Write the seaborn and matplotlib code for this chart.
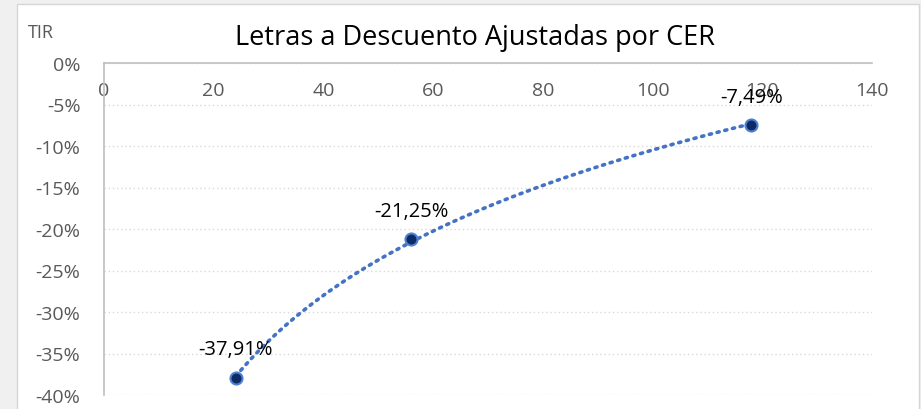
import matplotlib
matplotlib.use("Agg")
import matplotlib.pyplot as plt
import numpy as np
import pandas as pd
import seaborn as sns
from matplotlib.patches import Rectangle
from matplotlib.ticker import FuncFormatter, MultipleLocator

# datos
dias = [24, 56, 118]
tir = [-37.91, -21.25, -7.49]
etiquetas = ["-37,91%", "-21,25%", "-7,49%"]

df = pd.DataFrame({"dias": dias, "tir": tir})

sns.set_theme(style="white")
plt.rcParams["font.family"] = ["Open Sans", "DejaVu Sans"]

fig = plt.figure(figsize=(9.21, 4.10), dpi=100)
fig.patch.set_facecolor("#f0f0f0")
card = Rectangle((17 / 921, -0.05), (919 - 17) / 921, 1 - 5 / 410 + 0.05,
                 transform=fig.transFigure, facecolor="white",
                 edgecolor="#d6d6d6", linewidth=1.0, zorder=-10)
fig.patches.append(card)

ax = fig.add_axes([104 / 921, 1 - 396 / 410, (872 - 104) / 921, (396 - 64) / 410])
ax.patch.set_alpha(0)

# linea de tendencia logaritmica
sns.regplot(data=df, x="dias", y="tir", logx=True, ci=None, scatter=False,
            line_kws=dict(color="#4472C4", linewidth=2.6, linestyle=(0, (0.6, 1.6)),
                          dash_capstyle="round", zorder=2),
            ax=ax)
sns.scatterplot(data=df, x="dias", y="tir", s=75, color="#0b2a66",
                edgecolor="#4f7fcf", linewidth=1.5, zorder=3, ax=ax)

for x, y, t in zip(dias, tir, etiquetas):
    ax.annotate(t, (x, y), xytext=(0, 20.5), textcoords="offset points",
                ha="center", va="center", fontsize=14.5, color="black")

ax.set_xlim(0, 140)
ax.set_ylim(-40, 0)
ax.xaxis.set_major_locator(MultipleLocator(20))
ax.yaxis.set_major_locator(MultipleLocator(5))
ax.yaxis.set_major_formatter(FuncFormatter(lambda v, p: f"{v:.0f}%"))
ax.set_xlabel("")
ax.set_ylabel("")

ax.tick_params(axis="x", bottom=False, labelbottom=False, top=True, labeltop=True,
               length=0, pad=-26, labelsize=14, labelcolor="#595959")
ax.tick_params(axis="y", length=0, pad=17, labelsize=14, labelcolor="#595959")

ax.yaxis.grid(True, color="#d9d9d9", linestyle=(0, (1, 2)), linewidth=1)
ax.xaxis.grid(False)
for s in ["right", "bottom"]:
    ax.spines[s].set_visible(False)
for s in ["top", "left"]:
    ax.spines[s].set_color("#bfbfbf")
    ax.spines[s].set_linewidth(1.2)

fig.text(475 / 921, 1 - 38 / 410, "Letras a Descuento Ajustadas por CER",
         ha="center", va="center", fontsize=19.5, color="black")
fig.text(28 / 921, 1 - 33 / 410, "TIR", ha="left", va="center",
         fontsize=13, color="#595959")

fig.savefig("out.png", dpi=100, facecolor=fig.get_facecolor())
